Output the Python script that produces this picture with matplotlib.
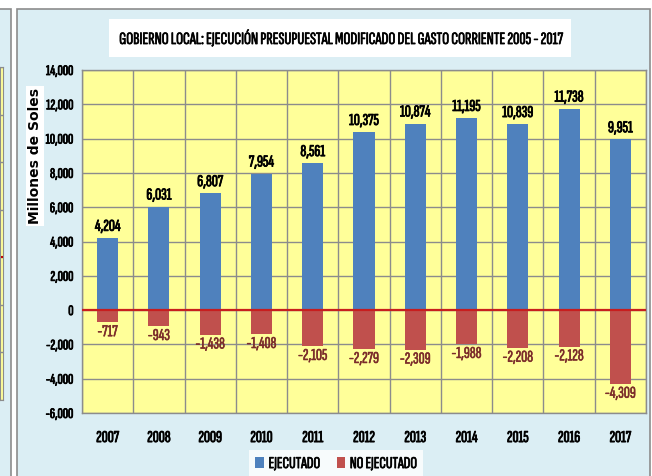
import matplotlib.pyplot as plt
import matplotlib.patheffects as pe
from matplotlib.patches import Rectangle
from matplotlib.ticker import FuncFormatter
import numpy as np

years = ['2007', '2008', '2009', '2010', '2011', '2012', '2013', '2014', '2015', '2016', '2017']
ejecutado = [4204, 6031, 6807, 7954, 8561, 10375, 10874, 11195, 10839, 11738, 9951]
no_ejecutado = [-717, -943, -1438, -1408, -2105, -2279, -2309, -1988, -2208, -2128, -4309]

plt.rcParams['font.family'] = ['Sofia Sans Extra Condensed', 'Fira Sans Extra Condensed', 'DejaVu Sans']

W, H = 652, 476
fig = plt.figure(figsize=(W / 100, H / 100), dpi=100)
fig.patch.set_facecolor('white')

panel = '#DBEEF4'
edge = '#8c8c8c'
neg_col = '#7B2C2A'


def heavy(col, w=0.6):
    # fake a heavier weight, the condensed font has only one
    return [pe.withStroke(linewidth=w, foreground=col)]


# chart panel + a slice of the neighbouring one on the left
fig.patches.append(Rectangle((17 / W, -0.01), (650 - 17) / W, (476 - 9) / H + 0.01, zorder=-5,
                             transform=fig.transFigure, facecolor=panel, edgecolor=edge, lw=1.2))
fig.patches.append(Rectangle((-0.01, -0.01), 11 / W + 0.01, (476 - 9) / H + 0.01, zorder=-5,
                             transform=fig.transFigure, facecolor=panel, edgecolor=edge, lw=1.2))

side = fig.add_axes([0, 1 - 400 / H, 3 / W, (400 - 67) / H])
side.set_facecolor('#FFFF99')
side.set_ylim(-6, 8)
side.set_yticks(np.arange(-6, 9, 2))
side.grid(axis='y', color=edge, lw=1)
side.axhline(0, color='#C00000', lw=1.5)
side.tick_params(left=False, bottom=False, labelleft=False, labelbottom=False)
for s in side.spines.values():
    s.set_color(edge)

ax = fig.add_axes([82 / W, 1 - 413 / H, (646 - 82) / W, (413 - 70) / H])
ax.set_facecolor('#FFFF99')
x = np.arange(len(years))
b1 = ax.bar(x, ejecutado, width=0.41, color='#4F81BD', label='EJECUTADO', zorder=3)
b2 = ax.bar(x, no_ejecutado, width=0.41, color='#C0504D', label='NO EJECUTADO', zorder=3)
ax.axhline(0, color='#C81E1E', lw=1.6, zorder=4)

fmt = lambda v: f'{v:,.0f}'
for t in ax.bar_label(b1, labels=[fmt(v) for v in ejecutado], padding=3, fontsize=12,
                      color='black', zorder=5):
    t.set_path_effects(heavy('black'))
for t in ax.bar_label(b2, labels=[fmt(v) for v in no_ejecutado], padding=2, fontsize=12,
                      color=neg_col, zorder=5):
    t.set_path_effects(heavy(neg_col, 0.4))

ax.set_xlim(-0.5, len(years) - 0.5)
ax.set_ylim(-6000, 14000)
ax.set_yticks(np.arange(-6000, 14001, 2000))
ax.yaxis.set_major_formatter(FuncFormatter(lambda v, p: f'{v:,.0f}'))
ax.set_xticks(x)
ax.set_xticks(np.arange(-0.5, len(years)), minor=True)
ax.set_xticklabels(years)
ax.tick_params(axis='x', which='both', length=0, labelsize=12, pad=13)
ax.tick_params(axis='y', which='both', length=0, labelsize=10.5, pad=6)
for t in ax.get_xticklabels() + ax.get_yticklabels():
    t.set_path_effects(heavy('black'))
ax.grid(axis='y', which='major', color=edge, lw=1, zorder=1)
ax.grid(axis='x', which='minor', color=edge, lw=1, zorder=1)
for s in ax.spines.values():
    s.set_color(edge)
    s.set_linewidth(1)

fig.text(340 / W, 1 - 38 / H,
         'GOBIERNO LOCAL: EJECUCIÓN PRESUPUESTAL MODIFICADO DEL GASTO CORRIENTE 2005 - 2017',
         ha='center', va='center', fontsize=12.5, path_effects=heavy('black', 0.5),
         bbox=dict(facecolor='white', edgecolor='none', pad=7))
fig.text(35 / W, 1 - 156 / H, 'Millones de Soles', rotation=90, ha='center', va='center',
         fontsize=10, fontweight='bold', family='DejaVu Sans',
         bbox=dict(facecolor='white', edgecolor='none', pad=1.5))

leg = fig.legend(handles=[b1, b2], loc='center', bbox_to_anchor=(336 / W, (476 - 464) / H),
                 ncol=2, frameon=True, handlelength=0.5, handleheight=0.6,
                 handletextpad=0.3, columnspacing=1.0, borderpad=0.4, fancybox=False,
                 prop={'size': 12})
leg.get_frame().set_facecolor('white')
leg.get_frame().set_edgecolor('none')
for t in leg.get_texts():
    t.set_path_effects(heavy('black', 0.5))

fig.savefig('out.png', dpi=100)
